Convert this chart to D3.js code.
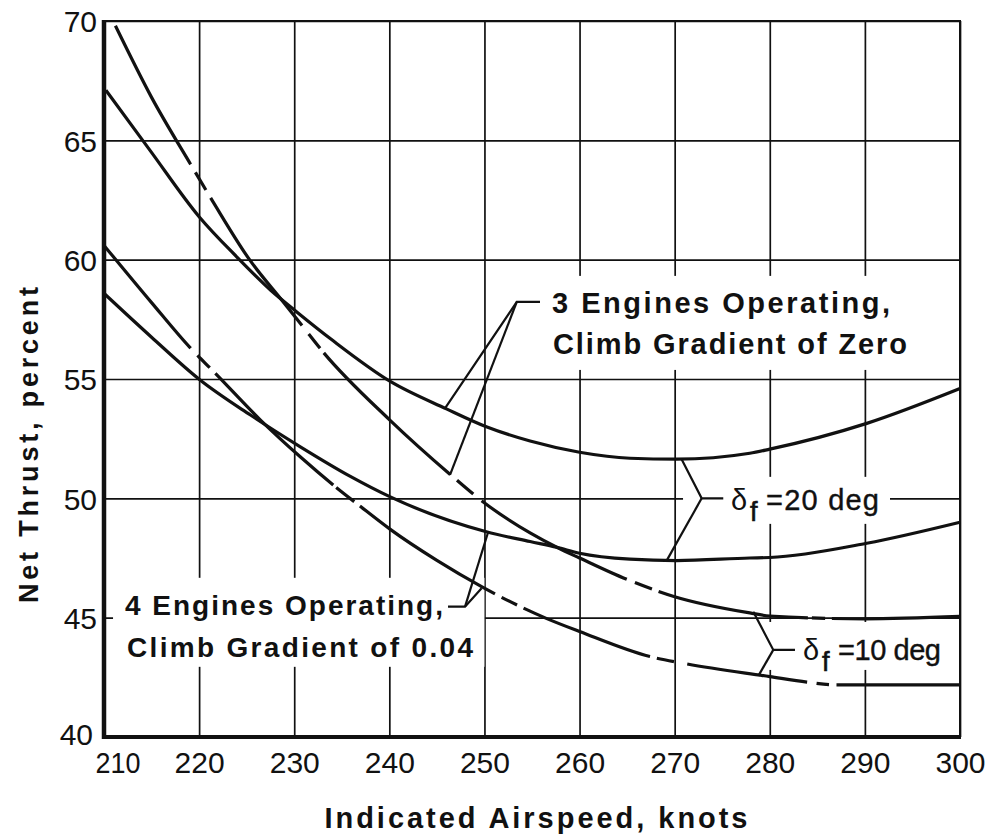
<!DOCTYPE html>
<html><head><meta charset="utf-8">
<script src="https://cdn.jsdelivr.net/npm/d3@7"></script>
<style>body{margin:0;background:#fff} svg{display:block}</style>
</head><body>
<svg id="chart" width="991" height="836"></svg>
<script>
// ---------- data ----------
const airspeedTicks = [210,220,230,240,250,260,270,280,290,300];
const thrustTicks = [40,45,50,55,60,65,70];

// 3 engines operating, climb gradient 0, flaps 20 deg
const threeEng20 = [[210.2,67.1],[214.8,64.6],[220,61.8],[224,60.1],[227.5,58.73],[230.3,57.8],[234.1,56.6],[240.1,54.9],[246,53.75],[250.2,53.0],[254.8,52.4],[260,51.93],[265.3,51.68],[270.2,51.64],[277.9,51.89],[280,52.06],[290.2,53.14],[300,54.6]];
// 3 engines operating, climb gradient 0, flaps 10 deg
const threeEng10 = [[211.2,69.8],[215,66.8],[219.1,64.0],[221.5,62.4],[225.3,60.0],[228.7,58.3],[230.8,57.25],[233.1,56.1],[240,53.3],[246.4,51.0],[249.7,49.9],[254.8,48.55],[257.6,47.95],[260,47.5],[265,46.6],[270,45.88],[277.9,45.2],[280,45.07],[290,44.95],[300,45.05]];
// 4 engines operating, climb gradient 0.04, flaps 20 deg
const fourEng20 = [[210.1,58.55],[215,56.75],[220.1,54.96],[225.4,53.49],[230.6,52.17],[235.9,50.92],[240.1,50.06],[250.2,48.6],[254.8,48.19],[257.6,47.95],[260,47.7],[265.3,47.45],[270.2,47.39],[277.9,47.5],[280,47.52],[290.2,48.12],[300,49.0]];
// 4 engines operating, climb gradient 0.04, flaps 10 deg
const fourEng10 = [[210.1,60.55],[215,58.2],[219.1,56.29],[221.7,55.24],[226.4,53.3],[230.6,51.75],[234.1,50.56],[236.9,49.68],[240.1,48.7],[245,47.4],[249.7,46.3],[254.1,45.4],[256.5,44.97],[260,44.42],[267.4,43.37],[271.3,43.06],[280,42.53],[283.9,42.3],[287,42.18],[300,42.18]];

// broken (dashed) stretches, as airspeed intervals where the line is interrupted
const threeEng10Gaps = [[219.1,219.6],[220.7,221.2],[230.8,231.5],[232.7,233.1],[246.4,247.1],[248.8,249.7],[264.95,265.8],[267.6,268.3],[284.0,284.4],[285.8,286.5]];
const fourEng10Gaps = [[219.1,219.8],[221.1,221.7],[234.1,234.4],[236.3,236.9],[251.1,251.8],[253.4,254.1],[267.4,268.1],[269.9,271.3],[283.9,284.9],[286.2,287.0]];

const xTitle = "Indicated Airspeed, knots";
const yTitle = "Net Thrust, percent";
const label3a = "3 Engines Operating,";
const label3b = "Climb Gradient of Zero";
const label4a = "4 Engines Operating,";
const label4b = "Climb Gradient of 0.04";

// ---------- chart ----------
const svg = d3.select("#chart");
const mL = 104, mR = 960, mT = 21, mB = 737;
const x = d3.scaleLinear().domain([210,300]).range([mL,mR]);
const y = d3.scaleLinear().domain([40,70]).range([mB,mT]);
const FONT = "'Liberation Sans', Arial, sans-serif";

svg.append("rect").attr("width",991).attr("height",836).attr("fill","#fff");

// grid via axes
const gx = svg.append("g").attr("transform",`translate(0,${mB})`)
  .call(d3.axisBottom(x).tickValues(airspeedTicks).tickSize(-(mB-mT)).tickFormat(d3.format("d")));
gx.select(".domain").remove();
gx.selectAll("line").attr("stroke","#111").attr("stroke-width",1.7);
gx.selectAll("text").attr("y",36).attr("dy",0).attr("font-family",FONT).attr("font-size",30).attr("fill","#111");
// first label sits just right of the corner, clear of the "40"
gx.selectAll("text").filter(d=>d===210).attr("text-anchor","start").attr("x",-9)
  .attr("textLength",45).attr("lengthAdjust","spacingAndGlyphs");

const gy = svg.append("g").attr("transform",`translate(${mL},0)`)
  .call(d3.axisLeft(y).tickValues(thrustTicks).tickSize(-(mR-mL)).tickFormat(d3.format("d")));
gy.select(".domain").remove();
gy.selectAll("line").attr("stroke","#111").attr("stroke-width",1.7);
gy.selectAll("text").attr("x",-7).attr("dy","0.36em").attr("font-family",FONT).attr("font-size",30).attr("fill","#111");
gy.selectAll("text").filter(d=>d===40).attr("x",-11).attr("dy","0.26em");

// white label boxes that interrupt the grid
const boxes = [
  {x0:255.84,x1:299.8,y0:59.32,y1:55.38},
  {x0:210.95,x1:250.0,y0:46.67,y1:42.94},
  {x0:270.88,x1:292.64,y0:50.9,y1:48.93},
  {x0:279.18,x1:299.8,y0:44.82,y1:42.81}
];
svg.append("g").selectAll("rect").data(boxes).join("rect")
  .attr("x",d=>x(d.x0)).attr("y",d=>y(d.y0))
  .attr("width",d=>x(d.x1)-x(d.x0)).attr("height",d=>y(d.y1)-y(d.y0))
  .attr("fill","#fff");

// frame
svg.append("rect").attr("x",mL).attr("y",mT).attr("width",mR-mL).attr("height",mB-mT)
  .attr("fill","none").attr("stroke","#111").attr("stroke-width",2);
svg.append("line").attr("x1",mL).attr("x2",mL).attr("y1",mT-1).attr("y2",mB+2)
  .attr("stroke","#111").attr("stroke-width",4.5);
svg.append("line").attr("x1",mL-2).attr("x2",mR+1).attr("y1",mB).attr("y2",mB)
  .attr("stroke","#111").attr("stroke-width",4);

// curves
const line = d3.line().x(d=>x(d[0])).y(d=>y(d[1])).curve(d3.curveMonotoneX);
const curveG = svg.append("g");
function drawCurve(data, gaps){
  const p = curveG.append("path").datum(data).attr("d",line)
    .attr("fill","none").attr("stroke","#111").attr("stroke-width",3.2).attr("stroke-linecap","butt");
  if(!gaps || !gaps.length) return;
  const node = p.node(), total = node.getTotalLength();
  const samples = [];
  for(let l=0;l<=total;l+=0.25) samples.push([l, node.getPointAtLength(l).x]);
  const lenAt = v => { const px = x(v); const s = samples.find(s=>s[1]>=px); return s? s[0] : total; };
  const dash = []; let pos = 0;
  gaps.forEach(([a,b])=>{ const la=lenAt(a), lb=lenAt(b); dash.push(la-pos, lb-la); pos=lb; });
  dash.push(total-pos+20, 20);
  p.attr("stroke-dasharray", dash.join(","));
}
drawCurve(threeEng20, []);
drawCurve(fourEng20, []);
drawCurve(threeEng10, threeEng10Gaps);
drawCurve(fourEng10, fourEng10Gaps);

// leader lines (data coordinates)
const leaders = [
  [[255.84,58.23],[253.4,58.23],[245.85,53.77]],
  [[253.4,58.23],[246.38,50.98]],
  [[246.17,45.46],[247.96,45.46],[249.7,46.23]],
  [[247.96,45.46],[250.4,48.6]],
  [[275.11,50.0],[272.84,50.0],[270.73,51.64]],
  [[272.84,50.0],[269.2,47.42]],
  [[282.65,43.65],[280.37,43.65],[278.27,45.25]],
  [[280.37,43.65],[278.8,42.56]]
];
const ll = d3.line().x(d=>x(d[0])).y(d=>y(d[1]));
svg.append("g").selectAll("path").data(leaders).join("path")
  .attr("d",ll).attr("fill","none").attr("stroke","#111").attr("stroke-width",2.2).attr("stroke-linejoin","miter");

// labels
function boldText(t, px, py, len, size){
  svg.append("text").attr("x",px).attr("y",py).text(t)
    .attr("font-family",FONT).attr("font-weight","bold").attr("font-size",size)
    .attr("textLength",len).attr("lengthAdjust","spacing").attr("fill","#111");
}
boldText(label3a, 552, 313, 338, 29);
boldText(label3b, 553, 354, 354, 29);
boldText(label4a, 125, 615, 318, 28);
boldText(label4b, 127, 657, 346, 28);

function flapLabel(px, py, rest, len){
  svg.append("text").attr("x",px).attr("y",py).text("δ")
    .attr("font-family",FONT).attr("font-size",29).attr("fill","#111");
  svg.append("text").attr("x",px+19).attr("y",py+11).text("f")
    .attr("font-family",FONT).attr("font-size",27).attr("fill","#111")
    .attr("stroke","#111").attr("stroke-width",0.6);
  svg.append("text").attr("x",px+35).attr("y",py).text(rest)
    .attr("font-family",FONT).attr("font-size",29).attr("fill","#111")
    .attr("stroke","#111").attr("stroke-width",0.4)
    .attr("textLength",len).attr("lengthAdjust","spacing");
}
flapLabel(731, 510, "=20 deg", 113);
flapLabel(803, 660, "=10 deg", 103);

// axis titles
svg.append("text").attr("x",536).attr("y",828).attr("text-anchor","middle").text(xTitle)
  .attr("font-family",FONT).attr("font-weight","bold").attr("font-size",29)
  .attr("textLength",423).attr("lengthAdjust","spacing").attr("fill","#111");
svg.append("text").attr("transform","translate(38,445) rotate(-90)").attr("text-anchor","middle").text(yTitle)
  .attr("font-family",FONT).attr("font-weight","bold").attr("font-size",27)
  .attr("textLength",316).attr("lengthAdjust","spacing").attr("fill","#111");
</script>
</body></html>
